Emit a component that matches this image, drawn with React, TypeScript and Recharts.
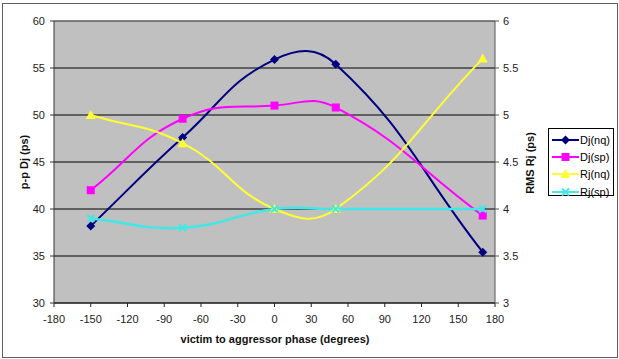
import {
  LineChart, Line, XAxis, YAxis, CartesianGrid, Legend, ReferenceLine,
} from "recharts";

// phase (degrees) and measured jitter per series
const phases = [-150, -75, 0, 50, 170];
const djNq = [38.2, 47.6, 55.9, 55.4, 35.4];
const djSp = [42.0, 49.6, 51.0, 50.8, 39.3];
const rjNq = [5.0, 4.7, 4.0, 4.0, 5.6];
const rjSp = [3.9, 3.8, 4.0, 4.0, 4.0];

const phaseTicks = [-180, -150, -120, -90, -60, -30, 0, 30, 60, 90, 120, 150, 180];
const djTicks = [30, 35, 40, 45, 50, 55, 60];
const rjTicks = [3, 3.5, 4, 4.5, 5, 5.5, 6];

const seriesNames = ["Dj(nq)", "Dj(sp)", "Rj(nq)", "Rj(sp)"];
const seriesColors = ["#000080", "#ff00ff", "#ffff33", "#40e8e8"];

const data = phases.map((p, i) => ({
  phase: p,
  djNq: djNq[i],
  djSp: djSp[i],
  rjNq: rjNq[i],
  rjSp: rjSp[i],
}));

const FONT = "Arial, 'Liberation Sans', sans-serif";

// Excel-like smoothed line (bezier, tangent scaled by neighbour segment lengths)
const TENSION = 0.45;
function excelSmooth(context: any) {
  let pts: number[][] = [];
  const dist = (a: number[], b: number[]) => Math.hypot(b[0] - a[0], b[1] - a[1]);
  return {
    areaStart() {},
    areaEnd() {},
    lineStart() {
      pts = [];
    },
    point(x: number, y: number) {
      pts.push([+x, +y]);
    },
    lineEnd() {
      const n = pts.length;
      if (!n) return;
      context.moveTo(pts[0][0], pts[0][1]);
      for (let i = 0; i < n - 1; i++) {
        const p0 = pts[i - 1] || pts[i];
        const p1 = pts[i];
        const p2 = pts[i + 1];
        const p3 = pts[i + 2] || p2;
        const d0 = dist(p0, p1);
        const d1 = dist(p1, p2);
        const d2 = dist(p2, p3);
        const a = d0 + d1 > 0 ? (d1 / (d0 + d1)) * TENSION : 0;
        const b = d1 + d2 > 0 ? (d1 / (d1 + d2)) * TENSION : 0;
        context.bezierCurveTo(
          p1[0] + (p2[0] - p0[0]) * a,
          p1[1] + (p2[1] - p0[1]) * a,
          p2[0] - (p3[0] - p1[0]) * b,
          p2[1] - (p3[1] - p1[1]) * b,
          p2[0],
          p2[1],
        );
      }
    },
  };
}

function Marker({ kind, cx, cy, color }: { kind: number; cx: number; cy: number; color: string }) {
  if (kind === 0)
    return <polygon points={`${cx},${cy - 4.5} ${cx + 4.5},${cy} ${cx},${cy + 4.5} ${cx - 4.5},${cy}`} fill={color} />;
  if (kind === 1) return <rect x={cx - 4} y={cy - 4} width={8} height={8} fill={color} />;
  if (kind === 2)
    return <polygon points={`${cx},${cy - 5} ${cx + 5},${cy + 4} ${cx - 5},${cy + 4}`} fill={color} />;
  return (
    <g stroke={color} strokeWidth={2}>
      <line x1={cx - 3.5} y1={cy - 3.5} x2={cx + 3.5} y2={cy + 3.5} />
      <line x1={cx - 3.5} y1={cy + 3.5} x2={cx + 3.5} y2={cy - 3.5} />
    </g>
  );
}

const dotFor = (kind: number) => (props: any) => {
  const { cx, cy, key } = props;
  if (cx == null || cy == null) return <g key={key} />;
  return <Marker key={key} kind={kind} cx={cx} cy={cy} color={seriesColors[kind]} />;
};

function LegendBox() {
  return (
    <div
      style={{
        border: "1px solid #000",
        background: "#fff",
        width: 66,
        height: 68,
        boxSizing: "border-box",
        padding: "2px 0 0 3px",
        fontFamily: FONT,
        fontSize: 11,
        color: "#000",
      }}
    >
      {seriesNames.map((name, i) => (
        <div key={name} style={{ display: "flex", alignItems: "center", height: 17.3 }}>
          <svg width={27} height={12} style={{ display: "block" }}>
            <line x1={0} y1={6} x2={27} y2={6} stroke={seriesColors[i]} strokeWidth={2} />
            <Marker kind={i} cx={13.5} cy={6} color={seriesColors[i]} />
          </svg>
          <span style={{ marginLeft: 1 }}>{name}</span>
        </div>
      ))}
    </div>
  );
}

const tickStyle = { fill: "#222", fontSize: 11, fontFamily: FONT };
const titleStyle: any = {
  position: "absolute",
  fontFamily: FONT,
  fontSize: 11,
  fontWeight: "bold",
  color: "#111",
  whiteSpace: "nowrap",
};

export default function App() {
  return (
    <div style={{ position: "absolute", left: 0, top: 0, width: 619, height: 359, background: "#fff" }}>
      <div
        style={{
          position: "absolute",
          left: 2,
          top: 3,
          width: 614,
          height: 353,
          border: "1px solid #606060",
        }}
      />
      <LineChart
        width={619}
        height={359}
        data={data}
        margin={{ top: 21, right: 84, bottom: 26, left: 14 }}
      >
        <CartesianGrid yAxisId="L" vertical={false} stroke="#000" fill="#c0c0c0" fillOpacity={1} />
        <ReferenceLine yAxisId="L" y={60} stroke="#8a8a8a" />
        <XAxis
          dataKey="phase"
          type="number"
          domain={[-180, 180]}
          ticks={phaseTicks}
          interval={0}
          height={30}
          tick={tickStyle}
          tickSize={4}
          tickMargin={8}
          stroke="#222"
        />
        <YAxis
          yAxisId="L"
          orientation="left"
          domain={[30, 60]}
          ticks={djTicks}
          interval={0}
          width={40}
          tick={tickStyle}
          tickSize={4}
          tickMargin={5}
          stroke="#333"
        />
        <YAxis
          yAxisId="R"
          orientation="right"
          domain={[3, 6]}
          ticks={rjTicks}
          interval={0}
          width={40}
          tick={tickStyle}
          tickSize={4}
          tickMargin={4}
          stroke="#555"
        />
        <Line yAxisId="L" dataKey="djNq" name={seriesNames[0]} type={excelSmooth as any} stroke={seriesColors[0]} strokeWidth={2} dot={dotFor(0)} activeDot={false} isAnimationActive={false} />
        <Line yAxisId="L" dataKey="djSp" name={seriesNames[1]} type={excelSmooth as any} stroke={seriesColors[1]} strokeWidth={2} dot={dotFor(1)} activeDot={false} isAnimationActive={false} />
        <Line yAxisId="R" dataKey="rjNq" name={seriesNames[2]} type={excelSmooth as any} stroke={seriesColors[2]} strokeWidth={2} dot={dotFor(2)} activeDot={false} isAnimationActive={false} />
        <Line yAxisId="R" dataKey="rjSp" name={seriesNames[3]} type={excelSmooth as any} stroke={seriesColors[3]} strokeWidth={2.5} dot={dotFor(3)} activeDot={false} isAnimationActive={false} />
        <Legend
          layout="vertical"
          align="center"
          verticalAlign="middle"
          wrapperStyle={{ left: 548, top: 128, width: 68, height: 70 }}
          content={() => <LegendBox />}
        />
      </LineChart>
      <div style={{ ...titleStyle, left: 24, top: 162, transform: "translate(-50%, -50%) rotate(-90deg)" }}>
        p-p Dj (ps)
      </div>
      <div style={{ ...titleStyle, left: 530, top: 163, transform: "translate(-50%, -50%) rotate(-90deg)" }}>
        RMS Rj (ps)
      </div>
      <div style={{ ...titleStyle, left: 275, top: 339, transform: "translate(-50%, -50%)" }}>
        victim to aggressor phase (degrees)
      </div>
    </div>
  );
}
